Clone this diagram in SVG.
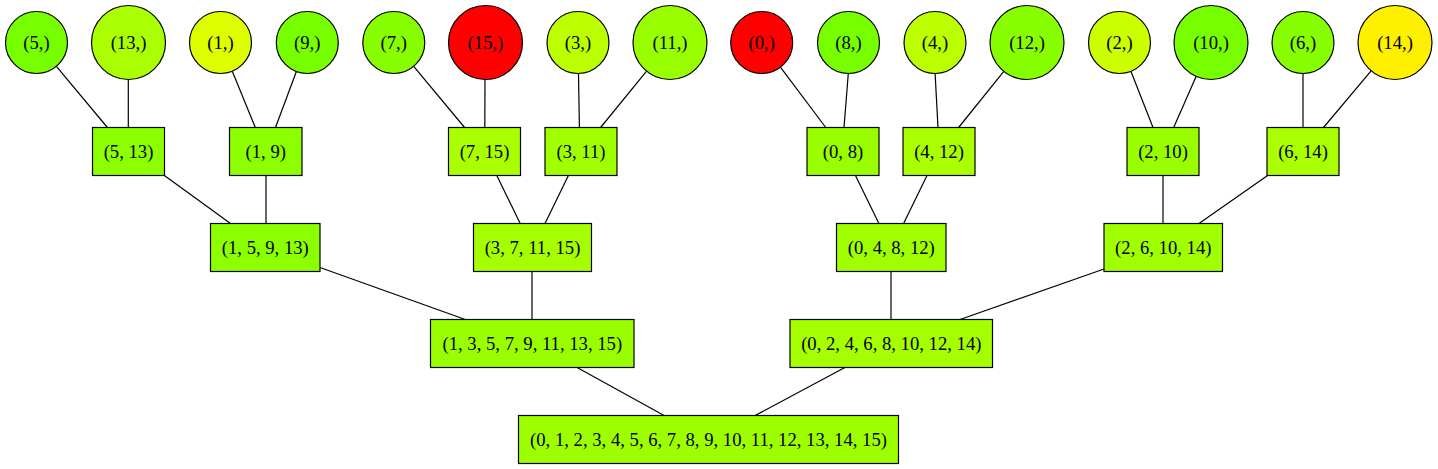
<svg xmlns="http://www.w3.org/2000/svg" width="1438" height="469" viewBox="0 0 1438 469">
<style>
.n circle,.n rect{stroke:#000;stroke-width:1.2}
text{font-family:"Liberation Serif","Times New Roman",serif;font-size:18.67px;text-anchor:middle;fill:#000}
#edges line{stroke:#000;stroke-width:1.2}
</style>
<rect width="1438" height="469" fill="#fff"/>
<g id="edges">
<line x1="56.4" y1="66.3" x2="107.4" y2="127.5"/>
<line x1="128.3" y1="79.5" x2="128.3" y2="127.5"/>
<line x1="232.3" y1="71.2" x2="255.3" y2="127.5"/>
<line x1="296.4" y1="71.5" x2="275.5" y2="127.5"/>
<line x1="413.7" y1="66.3" x2="464.6" y2="127.5"/>
<line x1="485" y1="79.5" x2="484.8" y2="127.5"/>
<line x1="578.5" y1="73.5" x2="579.4" y2="127.5"/>
<line x1="646.6" y1="71.1" x2="600.6" y2="127.5"/>
<line x1="780.4" y1="67.2" x2="825.8" y2="127.5"/>
<line x1="848.3" y1="73.5" x2="844" y2="127.5"/>
<line x1="935.1" y1="73.5" x2="938" y2="127.5"/>
<line x1="1003.8" y1="71.3" x2="958.6" y2="127.5"/>
<line x1="1130.9" y1="71.3" x2="1153" y2="127.5"/>
<line x1="1196.1" y1="76.4" x2="1173.7" y2="127.5"/>
<line x1="1303" y1="73.5" x2="1303" y2="127.5"/>
<line x1="1371.1" y1="70.8" x2="1323.5" y2="127.5"/>
<line x1="164.4" y1="175.5" x2="230.5" y2="223.5"/>
<line x1="266" y1="175.5" x2="266" y2="223.5"/>
<line x1="496.8" y1="175.5" x2="520.2" y2="223.5"/>
<line x1="568.4" y1="175.5" x2="545" y2="223.5"/>
<line x1="855.5" y1="175.5" x2="878.9" y2="223.5"/>
<line x1="927" y1="175.5" x2="903.6" y2="223.5"/>
<line x1="1163" y1="175.5" x2="1163" y2="223.5"/>
<line x1="1267.6" y1="175.5" x2="1199" y2="223.5"/>
<line x1="320" y1="267.5" x2="465.3" y2="319.5"/>
<line x1="532" y1="271.5" x2="532" y2="319.5"/>
<line x1="891" y1="271.5" x2="891" y2="319.5"/>
<line x1="1104" y1="269" x2="960" y2="319.5"/>
<line x1="577.1" y1="367.5" x2="664.1" y2="415.5"/>
<line x1="844.9" y1="367.5" x2="755.1" y2="415.5"/>
</g>
<g id="leaf5" class="n"><circle cx="36.5" cy="42.5" r="31" fill="#77ff00"/><text x="36.5" y="48.5">(5,)</text></g>
<g id="leaf13" class="n"><circle cx="128.5" cy="42.5" r="37" fill="#aaff00"/><text x="128.5" y="48.5">(13,)</text></g>
<g id="leaf1" class="n"><circle cx="220.5" cy="42.5" r="31" fill="#ddff00"/><text x="220.5" y="48.5">(1,)</text></g>
<g id="leaf9" class="n"><circle cx="307.3" cy="42.5" r="31" fill="#77ff00"/><text x="307.3" y="48.5">(9,)</text></g>
<g id="leaf7" class="n"><circle cx="393.8" cy="42.5" r="31" fill="#88ff00"/><text x="393.8" y="48.5">(7,)</text></g>
<g id="leaf15" class="n"><circle cx="485.5" cy="42.5" r="37" fill="#ff0000"/><text x="485.5" y="48.5">(15,)</text></g>
<g id="leaf3" class="n"><circle cx="578" cy="42.5" r="31" fill="#bbff00"/><text x="578" y="48.5">(3,)</text></g>
<g id="leaf11" class="n"><circle cx="670" cy="42.5" r="37" fill="#99ff00"/><text x="670" y="48.5">(11,)</text></g>
<g id="leaf0" class="n"><circle cx="761.7" cy="42.5" r="31" fill="#ff0000"/><text x="761.7" y="48.5">(0,)</text></g>
<g id="leaf8" class="n"><circle cx="848.5" cy="42.5" r="31" fill="#77ff00"/><text x="848.5" y="48.5">(8,)</text></g>
<g id="leaf4" class="n"><circle cx="935" cy="42.5" r="31" fill="#bbff00"/><text x="935" y="48.5">(4,)</text></g>
<g id="leaf12" class="n"><circle cx="1027" cy="42.5" r="37" fill="#88ff00"/><text x="1027" y="48.5">(12,)</text></g>
<g id="leaf2" class="n"><circle cx="1119.5" cy="42.5" r="31" fill="#ccff00"/><text x="1119.5" y="48.5">(2,)</text></g>
<g id="leaf10" class="n"><circle cx="1211" cy="42.5" r="37" fill="#77ff00"/><text x="1211" y="48.5">(10,)</text></g>
<g id="leaf6" class="n"><circle cx="1303" cy="42.5" r="31" fill="#88ff00"/><text x="1303" y="48.5">(6,)</text></g>
<g id="leaf14" class="n"><circle cx="1395" cy="42.5" r="37" fill="#fff000"/><text x="1395" y="48.5">(14,)</text></g>
<g id="n5_13" class="n"><rect x="92.5" y="127.5" width="72" height="48" fill="#8cff00"/><text x="128.5" y="157.5">(5, 13)</text></g>
<g id="n1_9" class="n"><rect x="229.5" y="127.5" width="72.5" height="48" fill="#8cff00"/><text x="265.8" y="157.5">(1, 9)</text></g>
<g id="n7_15" class="n"><rect x="448.5" y="127.5" width="72" height="48" fill="#aaff00"/><text x="484.5" y="157.5">(7, 15)</text></g>
<g id="n3_11" class="n"><rect x="545" y="127.5" width="72" height="48" fill="#a0ff00"/><text x="581" y="157.5">(3, 11)</text></g>
<g id="n0_8" class="n"><rect x="807" y="127.5" width="72" height="48" fill="#99ff00"/><text x="843" y="157.5">(0, 8)</text></g>
<g id="n4_12" class="n"><rect x="903" y="127.5" width="72" height="48" fill="#aaff00"/><text x="939" y="157.5">(4, 12)</text></g>
<g id="n2_10" class="n"><rect x="1127" y="127.5" width="72" height="48" fill="#99ff00"/><text x="1163" y="157.5">(2, 10)</text></g>
<g id="n6_14" class="n"><rect x="1267" y="127.5" width="72" height="48" fill="#aaff00"/><text x="1303" y="157.5">(6, 14)</text></g>
<g id="n1_5_9_13" class="n"><rect x="210.5" y="223.5" width="109.5" height="48" fill="#8cff00"/><text x="265.3" y="253.5">(1, 5, 9, 13)</text></g>
<g id="n3_7_11_15" class="n"><rect x="473.5" y="223.5" width="118" height="48" fill="#a6ff00"/><text x="532.5" y="253.5">(3, 7, 11, 15)</text></g>
<g id="n0_4_8_12" class="n"><rect x="836.5" y="223.5" width="109.5" height="48" fill="#a0ff00"/><text x="891.3" y="253.5">(0, 4, 8, 12)</text></g>
<g id="n2_6_10_14" class="n"><rect x="1104" y="223.5" width="118.5" height="48" fill="#a0ff00"/><text x="1163.3" y="253.5">(2, 6, 10, 14)</text></g>
<g id="odd" class="n"><rect x="430.5" y="319.5" width="203.5" height="48" fill="#99ff00"/><text x="532.3" y="349.5">(1, 3, 5, 7, 9, 11, 13, 15)</text></g>
<g id="even" class="n"><rect x="790" y="319.5" width="202.5" height="48" fill="#a6ff00"/><text x="891.3" y="349.5">(0, 2, 4, 6, 8, 10, 12, 14)</text></g>
<g id="root" class="n"><rect x="518.5" y="415.5" width="380" height="48" fill="#9eff00"/><text x="708.5" y="445.5">(0, 1, 2, 3, 4, 5, 6, 7, 8, 9, 10, 11, 12, 13, 14, 15)</text></g>
</svg>
